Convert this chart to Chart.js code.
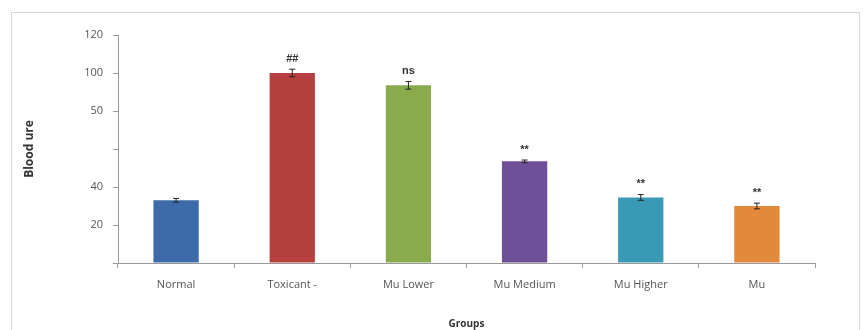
<!DOCTYPE html>
<html>
<head>
<meta charset="utf-8">
<script src="https://cdn.jsdelivr.net/npm/chart.js@4.4.0/dist/chart.umd.min.js"></script>
<style>
  html, body { margin: 0; padding: 0; background: #fff; }
  #chart { display: block; }
</style>
</head>
<body>
<canvas id="chart" width="863" height="330"></canvas>
<script>
const groups = ["Normal", "Toxicant -", "Mu Lower", "Mu Medium", "Mu Higher", "Mu"];
const bloodUrea = [33, 100, 93.5, 53.5, 34.5, 30];
const errors = [1, 2, 2, 0.7, 1.5, 1.5];
const marks = ["", "##", "ns", "**", "**", "**"];
const barColors = ["#3d6aa8", "#b5403f", "#8aab4b", "#6f4f97", "#3a9ab5", "#e3893b"];
// tick labels as printed on the original axis (0..120 by 20)
const yTickLabels = ["", "20", "40", "", "50", "100", "120"];

const extras = {
  id: "extras",
  beforeDraw(chart) {
    const ctx = chart.ctx;
    ctx.save();
    ctx.strokeStyle = "#d4d4d4";
    ctx.lineWidth = 1;
    ctx.strokeRect(11.5, 12.5, 848, 320);
    ctx.restore();
  },
  afterDatasetsDraw(chart) {
    const ctx = chart.ctx;
    const meta = chart.getDatasetMeta(0);
    const y = chart.scales.y;
    ctx.save();
    meta.data.forEach((bar, i) => {
      const v = bloodUrea[i];
      const top = y.getPixelForValue(v + errors[i]);
      const bot = y.getPixelForValue(v - errors[i]);
      ctx.strokeStyle = "#222";
      ctx.lineWidth = 1;
      ctx.beginPath();
      ctx.moveTo(bar.x, top); ctx.lineTo(bar.x, bot);
      ctx.moveTo(bar.x - 3, top); ctx.lineTo(bar.x + 3, top);
      ctx.moveTo(bar.x - 3, bot); ctx.lineTo(bar.x + 3, bot);
      ctx.stroke();
      if (marks[i]) {
        ctx.fillStyle = "#333";
        ctx.font = "bold 11px 'Liberation Sans'";
        ctx.textAlign = "center";
        ctx.textBaseline = "bottom";
        ctx.fillText(marks[i], bar.x, top - 5);
      }
    });
    ctx.restore();
  }
};

new Chart(document.getElementById("chart").getContext("2d"), {
  type: "bar",
  data: {
    labels: groups,
    datasets: [{
      data: bloodUrea,
      backgroundColor: barColors,
      borderWidth: 0,
      barPercentage: 0.39,
      categoryPercentage: 1
    }]
  },
  options: {
    responsive: false,
    animation: false,
    layout: { padding: { left: 22, right: 48, top: 35, bottom: 0 } },
    plugins: { legend: { display: false }, tooltip: { enabled: false } },
    scales: {
      x: {
        grid: { offset: true, drawOnChartArea: false, drawTicks: true, tickLength: 5, color: "#999" },
        border: { color: "#999" },
        ticks: { color: "#555", font: { family: "Open Sans", size: 11 }, padding: 10 },
        title: { display: true, text: "Groups", color: "#333", font: { family: "Open Sans", size: 10, weight: "bold" }, padding: { top: 14, bottom: 0 } },
        afterFit(scale) { scale.height = 67; }
      },
      y: {
        min: 0, max: 120,
        grid: { drawOnChartArea: false, drawTicks: true, tickLength: 5, color: "#999" },
        border: { color: "#999" },
        ticks: {
          stepSize: 20,
          color: "#555",
          font: { family: "Open Sans", size: 11 },
          padding: 10,
          callback: (value, index) => yTickLabels[index]
        },
        title: { display: true, text: "Blood ure", color: "#333", font: { family: "Open Sans", size: 12, weight: "bold" }, padding: 0 },
        afterFit(scale) { scale.width = 96; }
      }
    }
  },
  plugins: [extras]
});
</script>
</body>
</html>
